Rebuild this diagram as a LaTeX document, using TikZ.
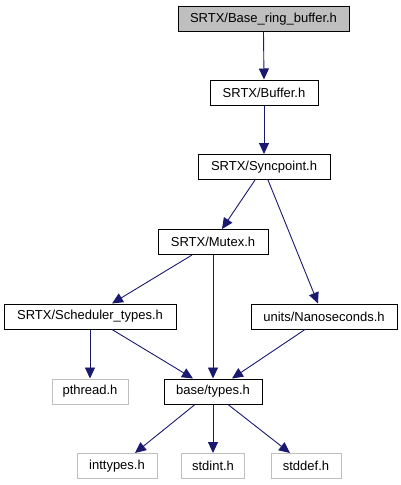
\documentclass[tikz,border=0pt]{standalone}
\usepackage{fontspec}
\setmainfont{Liberation Sans}
\usetikzlibrary{arrows.meta}
\definecolor{edgeblue}{HTML}{191970}
\definecolor{sysgrey}{HTML}{BFBFBF}
\tikzset{
  box/.style={draw=black, line width=1pt, fill=white, inner sep=0pt, minimum height=25pt,
    font=\fontsize{13}{15}\selectfont},
  sysbox/.style={box, draw=sysgrey},
  rootbox/.style={box, fill=sysgrey},
  edge/.style={draw=edgeblue, line width=0.9pt, -{Triangle[length=11pt,width=10pt]}}
}
\begin{document}
\begin{tikzpicture}[x=1pt,y=-1pt]
\useasboundingbox (0,0) rectangle (401,485);
\node[rootbox, minimum width=171pt] (base) at (263.5,19) {SRTX/Base\_ring\_buffer.h};
\node[box, minimum width=108pt] (buffer) at (264,92.5) {SRTX/Buffer.h};
\node[box, minimum width=132pt] (sync) at (264,167) {SRTX/Syncpoint.h};
\node[box, minimum width=110pt] (mutex) at (213,242) {SRTX/Mutex.h};
\node[box, minimum width=172pt] (sched) at (90,316.5) {SRTX/Scheduler\_types.h};
\node[box, minimum width=146pt] (nano) at (324,316.5) {units/Nanoseconds.h};
\node[sysbox, minimum width=76pt] (pthread) at (90,391.5) {pthread.h};
\node[box, minimum width=98pt] (types) at (213,391.5) {base/types.h};
\node[sysbox, minimum width=80pt] (inttypes) at (117,466) {inttypes.h};
\node[sysbox, minimum width=63pt] (stdint) at (213,466) {stdint.h};
\node[sysbox, minimum width=70pt] (stddef) at (306,466) {stddef.h};

\draw[edge] (base.south) -- (buffer.north);
\draw[edge] (buffer.south) -- (sync.north);
\draw[edge] ([xshift=-9pt]sync.south) -- ([xshift=9pt]mutex.north);
\draw[edge] ([xshift=4pt]sync.south) -- ([xshift=-6pt]nano.north);
\draw[edge] ([xshift=-21pt]mutex.south) -- ([xshift=22pt]sched.north);
\draw[edge] (mutex.south) -- (types.north);
\draw[edge] (sched.south) -- (pthread.north);
\draw[edge] ([xshift=22pt]sched.south) -- ([xshift=-20pt]types.north);
\draw[edge] ([xshift=-19pt]nano.south) -- ([xshift=19pt]types.north);
\draw[edge] ([xshift=-18pt]types.south) -- ([xshift=18pt]inttypes.north);
\draw[edge] (types.south) -- (stdint.north);
\draw[edge] ([xshift=15pt]types.south) -- ([xshift=-16pt]stddef.north);
\end{tikzpicture}
\end{document}
